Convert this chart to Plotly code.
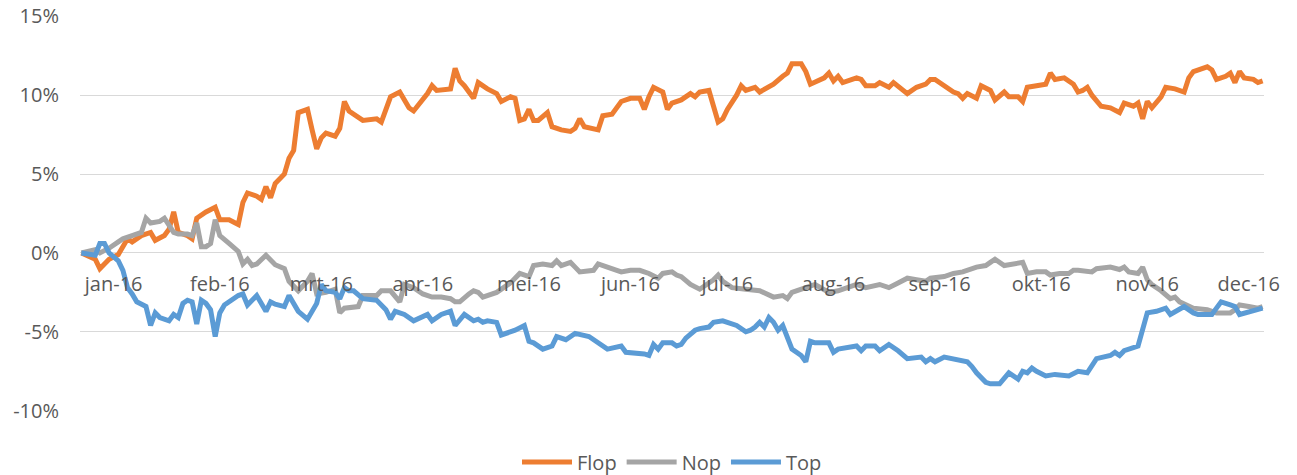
import plotly.graph_objects as go

# Trading-day index (0 = start of 2016) and cumulative return in %
flop_day = [0, 3, 4, 6, 8, 10, 11, 13, 15, 16, 18, 19, 20, 21, 23, 24, 25, 27, 29, 30, 32, 34, 35, 36, 38, 39, 40, 41, 42,
            44, 45, 46, 47, 49, 50, 51, 52, 53, 55, 56, 57, 58, 61, 64, 65, 67, 69, 71, 72, 74, 75, 76, 77, 80, 81, 82,
            83, 85, 86, 88, 90, 91, 93, 94, 95, 96, 97, 98, 99, 101, 102, 104, 106, 107, 108, 109, 111, 112, 113, 115,
            117, 119, 121, 122, 123, 124, 126, 127, 128, 130, 132, 133, 134, 136, 137, 138, 139, 140, 142, 143, 144,
            146, 147, 149, 150, 152, 153, 154, 156, 157, 158, 161, 162, 163, 164, 165, 166, 168, 169, 170, 172, 173,
            175, 176, 179, 181, 183, 184, 185, 187, 189, 190, 191, 192, 194, 195, 197, 198, 200, 201, 203, 204, 205,
            207, 209, 210, 211, 213, 215, 216, 217, 218, 219, 221, 223, 225, 226, 228, 229, 230, 231, 232, 234, 235,
            237, 239, 240, 241, 243, 244, 245, 246, 248, 249, 250, 251, 252, 254, 255, 256]
flop_val = [0, -0.4, -1.0, -0.4, -0.1, 0.9, 0.7, 1.1, 1.3, 0.8, 1.1, 1.5, 2.6, 1.3, 1.1, 0.9, 2.2, 2.6, 2.9, 2.1, 2.1,
            1.8, 3.2, 3.8, 3.6, 3.4, 4.2, 3.5, 4.4, 5.0, 6.0, 6.5, 8.9, 9.1, 7.8, 6.6, 7.3, 7.6, 7.4, 7.9, 9.6, 9.0,
            8.4, 8.5, 8.3, 9.9, 10.2, 9.2, 9.0, 9.7, 10.1, 10.6, 10.3, 10.4, 11.7, 10.9, 10.6, 9.8, 10.8, 10.4, 10.1,
            9.6, 9.9, 9.8, 8.4, 8.5, 9.1, 8.4, 8.4, 8.9, 8.0, 7.8, 7.7, 7.9, 8.5, 8.0, 7.9, 7.8, 8.7, 8.8, 9.6, 9.8,
            9.8, 9.1, 9.9, 10.5, 10.2, 9.1, 9.5, 9.7, 10.1, 9.9, 10.2, 10.3, 9.3, 8.3, 8.5, 9.1, 10.0, 10.6, 10.3,
            10.5, 10.2, 10.5, 10.7, 11.2, 11.4, 12.0, 12.0, 11.5, 10.7, 11.1, 11.4, 10.9, 11.2, 10.8, 10.9, 11.1,
            11.0, 10.6, 10.6, 10.8, 10.5, 10.8, 10.1, 10.5, 10.7, 11.0, 11.0, 10.6, 10.2, 10.1, 9.8, 10.1, 9.8, 10.6,
            10.3, 9.7, 10.2, 9.9, 9.9, 9.6, 10.5, 10.6, 10.7, 11.4, 11.0, 11.1, 10.7, 10.2, 10.3, 10.5, 10.0, 9.3,
            9.2, 8.9, 9.5, 9.3, 9.5, 8.5, 9.6, 9.2, 9.9, 10.5, 10.4, 10.2, 11.1, 11.5, 11.7, 11.8, 11.6, 11.0, 11.2,
            11.4, 10.8, 11.5, 11.1, 11.0, 10.8, 10.9]

nop_day = [0, 3, 4, 6, 8, 9, 11, 13, 14, 15, 17, 18, 20, 21, 23, 24, 25, 26, 27, 28, 29, 30, 32, 34, 35, 36, 37, 38,
           40, 41, 42, 44, 45, 47, 49, 50, 51, 53, 55, 56, 57, 60, 61, 64, 65, 67, 69, 70, 72, 74, 76, 78, 80, 81, 82,
           84, 85, 86, 87, 90, 91, 93, 95, 97, 98, 100, 102, 103, 104, 106, 107, 108, 111, 112, 114, 117, 119, 121,
           123, 125, 126, 128, 129, 130, 132, 134, 137, 138, 139, 141, 144, 147, 150, 152, 153, 154, 157, 159, 162,
           164, 168, 170, 173, 175, 177, 179, 181, 183, 184, 187, 189, 191, 194, 196, 197, 198, 200, 204, 205, 207,
           209, 210, 212, 214, 215, 216, 219, 220, 223, 225, 226, 227, 229, 230, 231, 232, 234, 236, 237, 238, 241,
           244, 246, 249, 250, 251, 253, 255, 256]
nop_val = [0, 0.2, 0.0, 0.3, 0.7, 0.9, 1.1, 1.3, 2.2, 1.9, 2.0, 2.2, 1.3, 1.2, 1.2, 1.1, 1.9, 0.4, 0.4, 0.6, 2.1, 1.1,
           0.6, 0.1, -0.7, -0.4, -0.8, -0.7, -0.15, -0.5, -0.75, -1.0, -1.8, -2.4, -1.8, -1.3, -2.6, -2.5, -2.3, -3.8,
           -3.5, -3.4, -2.7, -2.7, -2.4, -2.4, -3.1, -2.0, -2.2, -2.6, -2.8, -2.8, -2.9, -3.1, -3.1, -2.6, -2.4, -2.5,
           -2.8, -2.5, -2.3, -1.9, -1.3, -1.5, -0.8, -0.7, -0.8, -0.5, -0.8, -0.6, -0.9, -1.2, -1.1, -0.7, -0.9,
           -1.2, -1.1, -1.1, -1.3, -1.6, -1.3, -1.2, -1.4, -1.5, -2.0, -2.3, -1.7, -1.4, -1.8, -2.2, -2.3, -2.4,
           -2.8, -2.7, -2.9, -2.5, -2.2, -2.0, -2.5, -2.4, -2.0, -2.2, -2.0, -2.2, -1.9, -1.6, -1.7, -1.8, -1.6,
           -1.5, -1.3, -1.2, -0.9, -0.8, -0.6, -0.4, -0.8, -0.6, -1.3, -1.2, -1.2, -1.4, -1.3, -1.3, -1.1, -1.1,
           -1.2, -1.0, -0.9, -1.05, -0.9, -1.2, -1.3, -0.9, -1.7, -2.0, -2.4, -2.9, -2.8, -3.1, -3.5, -3.6, -3.8,
           -3.8, -3.6, -3.3, -3.4, -3.5, -3.4]

top_day = [0, 3, 4, 5, 6, 8, 9, 10, 11, 12, 14, 15, 16, 17, 19, 20, 21, 22, 23, 24, 25, 26, 27, 28, 29, 30, 31, 34,
           35, 36, 38, 40, 41, 42, 44, 45, 47, 49, 51, 52, 53, 55, 56, 57, 58, 59, 61, 64, 66, 67, 68, 70, 72, 75, 76,
           78, 80, 81, 83, 85, 86, 87, 88, 90, 91, 94, 96, 97, 98, 100, 102, 103, 105, 107, 110, 113, 114, 117, 118,
           122, 123, 124, 125, 126, 128, 129, 130, 131, 133, 134, 136, 137, 139, 142, 143, 144, 145, 146, 147, 148,
           149, 150, 151, 152, 154, 156, 157, 158, 159, 162, 163, 164, 168, 169, 170, 172, 173, 175, 177, 179, 182,
           183, 184, 185, 187, 190, 192, 193, 194, 196, 197, 199, 201, 203, 204, 205, 206, 207, 209, 211, 214, 216,
           218, 220, 223, 224, 225, 226, 229, 231, 233, 235, 236, 239, 241, 242, 245, 246, 247, 249, 250, 251, 256]
top_val = [0, -0.15, 0.6, 0.6, 0.0, -0.5, -1.1, -2.2, -2.6, -3.1, -3.4, -4.6, -3.8, -4.1, -4.3, -3.9, -4.1, -3.2, -3.0,
           -3.1, -4.5, -3.0, -3.2, -3.6, -5.3, -3.8, -3.3, -2.7, -2.6, -3.3, -2.7, -3.7, -3.1, -3.25, -3.4, -2.7,
           -3.7, -4.2, -3.2, -2.0, -2.4, -2.5, -2.9, -2.2, -2.4, -2.4, -2.9, -3.0, -3.6, -4.2, -3.7, -3.9, -4.3,
           -3.9, -4.3, -3.9, -3.7, -4.6, -3.9, -4.3, -4.2, -4.4, -4.3, -4.4, -5.2, -4.9, -4.6, -5.6, -5.7, -6.1,
           -5.9, -5.3, -5.5, -5.1, -5.3, -5.9, -6.1, -5.9, -6.3, -6.4, -6.5, -5.8, -6.1, -5.7, -5.7, -5.9, -5.8,
           -5.4, -4.9, -4.8, -4.7, -4.4, -4.3, -4.6, -4.8, -5.0, -4.9, -4.7, -4.4, -4.7, -4.1, -4.4, -4.9, -4.6,
           -6.1, -6.5, -6.9, -5.6, -5.7, -5.7, -6.3, -6.1, -5.9, -6.2, -5.9, -5.9, -6.2, -5.8, -6.2, -6.7, -6.6,
           -6.9, -6.7, -6.9, -6.6, -6.8, -6.9, -7.2, -7.6, -8.2, -8.3, -8.3, -7.6, -8.0, -7.5, -7.6, -7.3, -7.5,
           -7.8, -7.7, -7.8, -7.5, -7.6, -6.7, -6.5, -6.3, -6.5, -6.2, -5.9, -3.8, -3.7, -3.5, -3.9, -3.4, -3.8,
           -3.9, -3.9, -3.5, -3.1, -3.3, -3.4, -3.9, -3.5]

month_labels = ["jan-16", "feb-16", "mrt-16", "apr-16", "mei-16", "jun-16",
                "jul-16", "aug-16", "sep-16", "okt-16", "nov-16", "dec-16"]
month_label_day = [7, 30, 52, 74, 97, 119, 140, 163, 186, 208, 231, 253]

y_ticks = [-10, -5, 0, 5, 10, 15]
y_tick_text = ["-10%", "-5%", "0%", "5%", "10%", "15%"]

series = [
    ("Flop", flop_day, flop_val, "#ED7D31"),
    ("Nop", nop_day, nop_val, "#A5A5A5"),
    ("Top", top_day, top_val, "#5B9BD5"),
]

fig = go.Figure()
for name, xs, ys, color in series:
    fig.add_trace(go.Scatter(x=xs, y=ys, mode="lines", name=name,
                             line=dict(color=color, width=5)))

FONT = dict(family="Open Sans", size=20, color="#595959")

fig.update_layout(
    width=1297, height=475,
    margin=dict(l=80, r=33, t=16, b=64, autoexpand=False),
    paper_bgcolor="white", plot_bgcolor="white",
    font=FONT,
    showlegend=True,
    legend=dict(orientation="h", x=0.5, xanchor="center",
                yref="container", y=13 / 475, yanchor="middle",
                font=FONT, traceorder="normal", itemwidth=50),
    xaxis=dict(range=[-0.3, 256.3], tickmode="array", tickvals=month_label_day, ticktext=month_labels,
               showgrid=False, zeroline=False, showline=False, ticks="",
               anchor="free", position=0.4, tickfont=FONT, ticklabelstandoff=17),
    yaxis=dict(range=[-10.02, 15.02], tickmode="array", tickvals=y_ticks, ticktext=y_tick_text,
               showgrid=True, gridcolor="#D9D9D9", gridwidth=1,
               zeroline=True, zerolinecolor="#D9D9D9", zerolinewidth=1,
               showline=False, ticks="", tickfont=FONT, ticklabelstandoff=20),
)

fig.write_html("out.html")
